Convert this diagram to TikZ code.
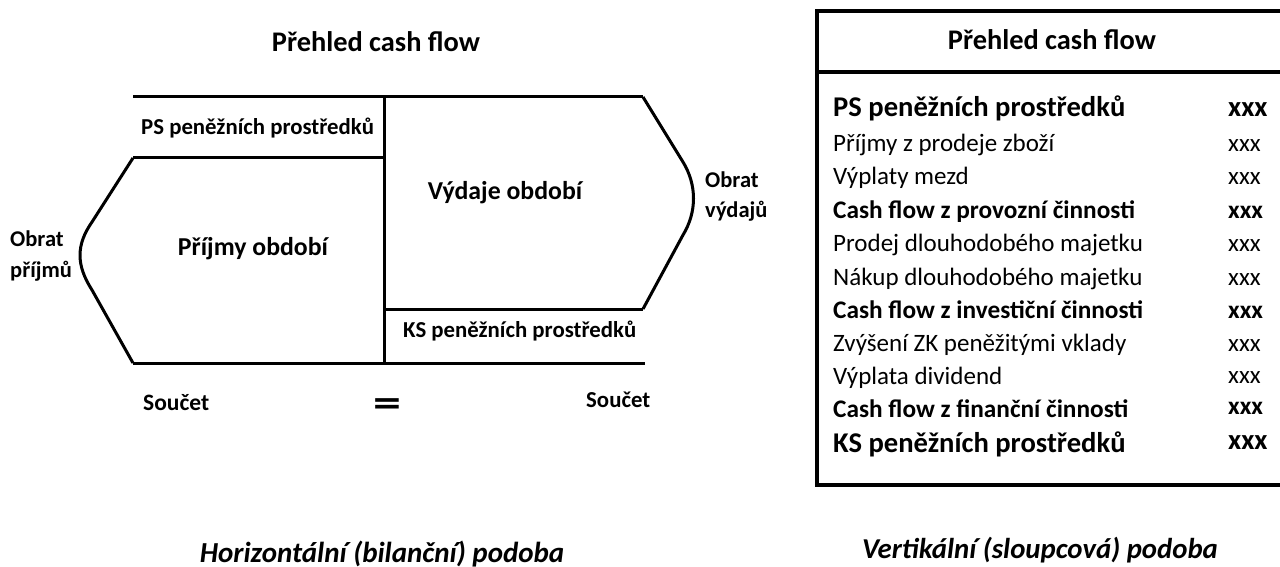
\documentclass[tikz,border=0pt]{standalone}
\usepackage{fontspec}
\setmainfont{Carlito}
\begin{document}
\begin{tikzpicture}[x=1pt,y=-1pt,
  ln/.style={line width=3pt},
  bx/.style={line width=3.2pt},
  t/.style={inner sep=0pt,font=#1},
  t/.default={\fontsize{22.8}{26}\selectfont\bfseries}]
\useasboundingbox (0,0) rectangle (1280,567);
% ---- left: horizontal form ----
\node[t={\fontsize{28.4}{32}\selectfont\bfseries},anchor=base] (ltitle) at (376,52) {Přehled cash flow};
\draw[ln] (133,97) -- (643,97);
\draw[ln] (384,97) -- (384,363);
\draw[ln] (133,158) -- (384,158);
\draw[ln] (384,309) -- (643,309);
\draw[ln] (133,363) -- (645,363);
\draw[ln,line join=round] (133,158) -- (92,222) .. controls (76,245) and (76,265) .. (92,290) -- (133,363);
\draw[ln,line join=round] (643,97) -- (683,162) .. controls (697,185) and (697,212) .. (683,235) -- (643,309);
\node[t,anchor=base west] (ps) at (141,135) {PS peněžních prostředků};
\node[t={\fontsize{25.8}{30}\selectfont\bfseries},anchor=base] (prij) at (253,255) {Příjmy období};
\node[t={\fontsize{25.8}{30}\selectfont\bfseries},anchor=base] (vyd) at (505,199) {Výdaje období};
\node[t,anchor=base west] (ks) at (403,337) {KS peněžních prostředků};
\node[t={\fontsize{22.5}{26}\selectfont\bfseries},anchor=base west] (op1) at (10,246) {Obrat};
\node[t={\fontsize{22.5}{26}\selectfont\bfseries},anchor=base west] (op2) at (10,277) {příjmů};
\node[t={\fontsize{22.5}{26}\selectfont\bfseries},anchor=base west] (ov1) at (705,187) {Obrat};
\node[t={\fontsize{22.5}{26}\selectfont\bfseries},anchor=base west] (ov2) at (705,217) {výdajů};
\node[t={\fontsize{23.5}{26}\selectfont\bfseries},anchor=base west] (s1) at (143,410) {Součet};
\node[t={\fontsize{22.8}{26}\selectfont\bfseries},anchor=base west] (s2) at (586,407) {Součet};
\node[t={\fontsize{40}{42}\selectfont\bfseries},xscale=1.4] (eq) at (387,408) {=};
\node[t={\fontsize{29}{32}\selectfont\bfseries\itshape},anchor=base] (cap1) at (382,562) {Horizontální (bilanční) podoba};
% ---- right: vertical form ----
\draw[bx] (1295,11) -- (817,11) -- (817,485) -- (1295,485);
\draw[bx] (817,72) -- (1295,72);
\node[t={\fontsize{28.4}{32}\selectfont\bfseries},anchor=base] (rtitle) at (1052,50) {Přehled cash flow};
\def\big{\fontsize{28.6}{32}\selectfont\bfseries}
\def\reg{\fontsize{25}{28}\selectfont}
\def\bld{\fontsize{25.3}{28}\selectfont\bfseries}
\foreach \txt/\f/\yy/\n in {PS peněžních prostředků/\big/117/1,
  Příjmy z prodeje zboží/\reg/152/2,
  Výplaty mezd/\reg/185/3,
  Cash flow z provozní činnosti/\bld/218/4,
  Prodej dlouhodobého majetku/\reg/251/5,
  Nákup dlouhodobého majetku/\reg/285/6,
  Cash flow z investiční činnosti/\bld/318/7,
  Zvýšení ZK peněžitými vklady/\reg/351/8,
  Výplata dividend/\reg/384/9,
  Cash flow z finanční činnosti/\bld/417/10,
  KS peněžních prostředků/\big/452/11}{
  \node[t=\f,anchor=base west] (r\n) at (833,\yy) {\txt};
}
\foreach \f/\yy/\n in {\big/117/1, \reg/152/2, \reg/185/3, \bld/218/4, \reg/251/5, \reg/285/6,
  \bld/318/7, \reg/351/8, \reg/383/9, \bld/414/10, \big/449/11}{
  \node[t=\f,anchor=base west] (x\n) at (1228,\yy) {xxx};
}
\node[t={\fontsize{28.8}{32}\selectfont\bfseries\itshape},anchor=base] (cap2) at (1040,558) {Vertikální (sloupcová) podoba};
\end{tikzpicture}
\end{document}
